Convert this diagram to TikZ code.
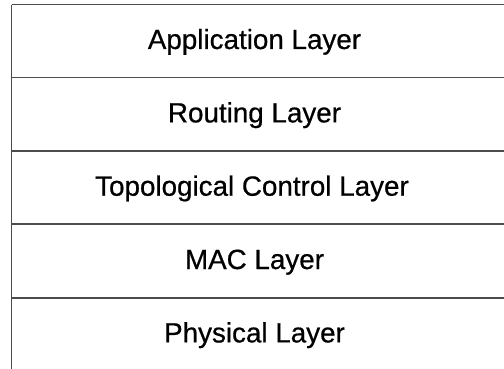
\documentclass[tikz,border=0pt]{standalone}
\usepackage{fontspec}
\setmainfont[FakeBold=0.6]{Liberation Sans}
\begin{document}
\begin{tikzpicture}[x=1pt,y=-1pt,
  layerline/.style={draw=black!70, line width=1.5pt},
  layertext/.style={font=\fontsize{27.8}{32}\selectfont, text=black, inner sep=0pt, anchor=base}]
\useasboundingbox (0,0) rectangle (504,369);
\fill[white] (0,0) rectangle (504,369);
\draw[layerline] (11.5,4.7) -- (11.5,369);
\foreach \y in {4.7,77.5,151,224,298}{
  \draw[layerline] (11.5,\y) -- (504,\y);
}
\node[layertext] (app) at (254.5,49) {Application Layer};
\node[layertext] (rout) at (254.5,122.4) {Routing Layer};
\node[layertext] (topo) at (252,195.7) {Topological Control Layer};
\node[layertext] (mac) at (254.5,269) {MAC Layer};
\node[layertext] (phy) at (254.5,342.4) {Physical Layer};
\end{tikzpicture}
\end{document}
